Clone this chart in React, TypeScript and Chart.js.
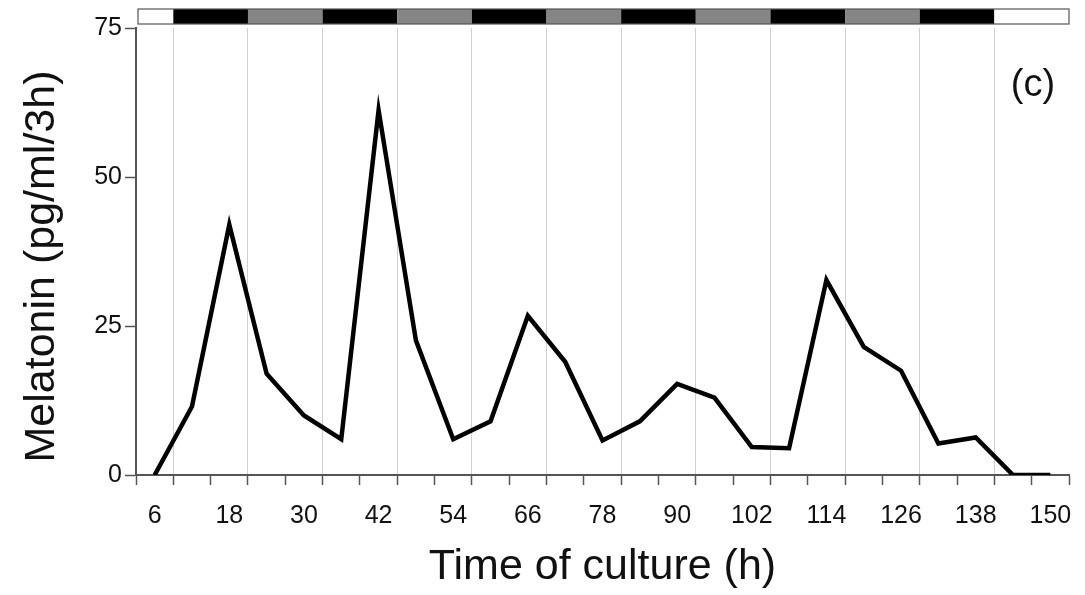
import React, { useEffect, useRef } from 'react';
import { Chart, registerables } from 'chart.js';

Chart.register(...registerables);

// Time of culture (h), one category every 6 h
const timeLabels = ['6', '12', '18', '24', '30', '36', '42', '48', '54', '60', '66', '72', '78', '84', '90', '96', '102', '108', '114', '120', '126', '132', '138', '144', '150'];
// Melatonin (pg/ml/3h)
const melatonin = [0, 11.5, 42, 17, 10, 6, 61.2, 22.6, 6, 9, 26.7, 19, 5.8, 9, 15.3, 13, 4.7, 4.5, 32.7, 21.5, 17.5, 5.3, 6.3, 0, 0];
const yTicks = [0, 25, 50, 75];
// Lighting regime bar: edges (in category boundaries) and kind of each segment
const phaseEdges = [0, 1, 3, 5, 7, 9, 11, 13, 15, 17, 19, 21, 23, 25];
const phaseKinds = ['light', 'dark', 'subjective', 'dark', 'subjective', 'dark', 'subjective', 'dark', 'subjective', 'dark', 'subjective', 'dark', 'light'];
const panelLabel = '(c)';
const yTitle = 'Melatonin (pg/ml/3h)';
const xTitle = 'Time of culture (h)';

const FONT = "'Liberation Sans', Arial, Helvetica, sans-serif";
const kindColor: Record<string, string> = { light: '#ffffff', dark: '#000000', subjective: '#858585' };

const overlayPlugin = {
  id: 'overlay',
  afterDraw(chart: any) {
    const { ctx, chartArea } = chart;
    const xs = chart.scales.x;
    const half = (xs.getPixelForValue(1) - xs.getPixelForValue(0)) / 2;
    const edge = (k: number) => xs.getPixelForValue(0) - half + k * half * 2;
    const top = chartArea.top - 19;
    const h = 15;
    ctx.save();
    for (let i = 0; i < phaseKinds.length; i++) {
      const x0 = edge(phaseEdges[i]) + (i === 0 ? 2 : 0);
      const x1 = edge(phaseEdges[i + 1]);
      ctx.fillStyle = kindColor[phaseKinds[i]];
      ctx.fillRect(x0, top, x1 - x0, h);
    }
    ctx.strokeStyle = '#555';
    ctx.lineWidth = 1.2;
    ctx.strokeRect(edge(0) + 2, top, edge(25) - edge(0) - 2, h);
    ctx.fillStyle = '#111';
    ctx.font = `38px ${FONT}`;
    ctx.textAlign = 'center';
    ctx.textBaseline = 'middle';
    ctx.fillText(panelLabel, chartArea.right - 36, chartArea.top + 58);
    // y-axis title
    ctx.translate(42, (chartArea.top + chartArea.bottom) / 2 + 15);
    ctx.rotate(-Math.PI / 2);
    ctx.font = `43px ${FONT}`;
    ctx.fillText(yTitle, 0, 0);
    ctx.restore();
  },
};

export default function App() {
  const ref = useRef<HTMLCanvasElement>(null);
  useEffect(() => {
    document.body.style.margin = '0';
    const chart = new Chart(ref.current!, {
      type: 'line',
      data: {
        labels: timeLabels,
        datasets: [
          {
            label: 'Melatonin',
            data: melatonin,
            borderColor: '#000',
            borderWidth: 4.5,
            pointRadius: 0,
            tension: 0,
            borderJoinStyle: 'miter',
            fill: false,
          },
        ],
      },
      options: {
        responsive: false,
        animation: false,
        layout: { padding: { top: 28, right: 16, left: 0, bottom: 0 } },
        plugins: { legend: { display: false }, tooltip: { enabled: false } },
        scales: {
          x: {
            type: 'category',
            offset: true,
            grid: {
              offset: true,
              drawOnChartArea: true,
              color: (ctx: any) => (ctx.index % 2 === 1 ? '#cfcfcf' : 'rgba(0,0,0,0)'),
              lineWidth: 1,
              tickColor: '#555',
              tickLength: 10,
              tickWidth: 1.5,
            },
            border: { color: '#555', width: 2 },
            ticks: {
              autoSkip: false,
              maxRotation: 0,
              minRotation: 0,
              padding: 16,
              color: '#111',
              font: { family: FONT, size: 25 },
              callback: (_v: any, i: number) => (i % 2 === 0 ? timeLabels[i] : ''),
            },
            title: {
              display: true,
              text: xTitle,
              color: '#111',
              font: { family: FONT, size: 43, lineHeight: 1 },
              padding: { top: 0, bottom: 6 },
            },
            afterFit: (s: any) => {
              s.height = 120;
              s.paddingLeft = 0;
              s.paddingRight = 0;
            },
          },
          y: {
            min: 0,
            max: 75,
            afterBuildTicks: (s: any) => {
              s.ticks = yTicks.map((v) => ({ value: v }));
            },
            grid: {
              drawOnChartArea: false,
              tickColor: '#555',
              tickLength: 11,
              tickWidth: 1.5,
            },
            border: { color: '#555', width: 2 },
            ticks: {
              padding: 3,
              color: '#111',
              font: { family: FONT, size: 25 },
            },
            title: { display: false, text: yTitle },
            afterFit: (s: any) => {
              s.width = 136;
              s.paddingTop = 0;
              s.paddingBottom = 0;
            },
          },
        },
      },
      plugins: [overlayPlugin],
    });
    return () => chart.destroy();
  }, []);
  return (
    <div style={{ width: 1085, height: 595 }}>
      <canvas ref={ref} width={1085} height={595} />
    </div>
  );
}
